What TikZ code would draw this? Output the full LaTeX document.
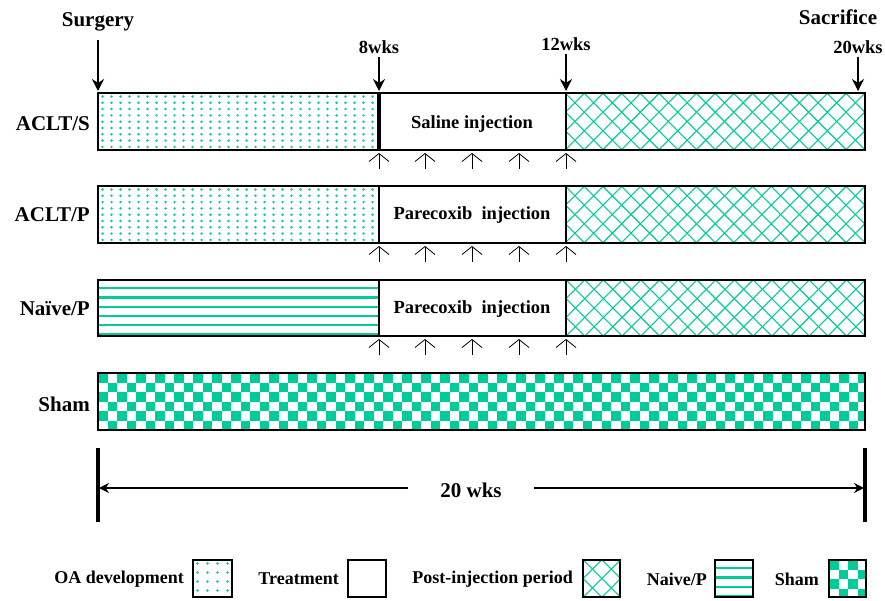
\documentclass[tikz,border=0pt]{standalone}
\usepackage{fontspec}
\setmainfont{Liberation Serif}
\usetikzlibrary{arrows.meta,positioning}

\definecolor{oagreen}{RGB}{0,204,153}

% pattern fills, arguments in pixels (y counted downwards)
\newcommand{\fillDots}[6]{%
  \begin{scope}
    \clip (#1,-#2) rectangle (#3,-#4);
    \foreach \i in {0,...,40}
      \foreach \j in {0,...,12}
        \fill[oagreen] ({#1+4.5+\i*#5},{-#2-3.5-\j*#6}) circle (1.35);
  \end{scope}}

\newcommand{\fillHatch}[4]{%
  \begin{scope}
    \clip (#1,-#2) rectangle (#3,-#4);
    \pgfmathsetmacro{\hh}{#4-#2}
    \foreach \i in {0,...,22}{
      \draw[oagreen,line width=1.1pt] ({#1-\hh+\i*18.7},-#2) -- ++(\hh,-\hh);
      \draw[oagreen,line width=1.1pt] ({#1+\i*18.7},-#2) -- ++(-\hh,-\hh);
    }
  \end{scope}}

\newcommand{\fillStripes}[4]{%
  \begin{scope}
    \clip (#1,-#2) rectangle (#3,-#4);
    \foreach \j in {0,...,7}
      \draw[oagreen,line width=2.2pt] (#1,{-#2-8.3-\j*9.2}) -- (#3,{-#2-8.3-\j*9.2});
  \end{scope}}

\newcommand{\fillChecks}[4]{%
  \begin{scope}
    \clip (#1,-#2) rectangle (#3,-#4);
    \foreach \j in {0,...,6}
      \foreach \i in {0,2,...,84}
        \fill[oagreen] ({#1+(\i+mod(\j,2))*9.5},{-#2-\j*9.5}) rectangle ++(9.5,-9.5);
  \end{scope}}

\begin{document}
\begin{tikzpicture}[x=1pt,y=1pt,>={Stealth[length=12pt,width=12pt]}]
\tikzstyle{grp}=[anchor=east,inner sep=1pt,font=\fontsize{21}{24}\selectfont\bfseries]
\tikzstyle{top}=[inner sep=1pt,font=\fontsize{21}{24}\selectfont\bfseries]
\tikzstyle{wk}=[inner sep=1pt,font=\fontsize{18.5}{20}\selectfont\bfseries]
\tikzstyle{inj}=[inner sep=1pt,font=\fontsize{18.5}{20}\selectfont\bfseries]
\tikzstyle{leg}=[anchor=east,inner sep=1pt,font=\fontsize{18}{20}\selectfont\bfseries]
\tikzstyle{bar}=[draw,line width=2pt]
\tikzstyle{shot}=[-{Straight Barb[length=8pt,width=20pt]},line width=0.8pt,shorten >=3pt]

\useasboundingbox (0,0) rectangle (885,-601);

% bars
\fillDots{98}{93}{379}{150}{9}{6.3}
\fillHatch{566}{93}{865}{150}
\draw[bar] (98,-93) rectangle (865,-150);
\draw[line width=3.5pt] (379,-93) -- (379,-150);
\draw[bar] (566,-93) -- (566,-150);

\fillDots{98}{186}{379}{243}{9}{6.3}
\fillHatch{566}{186}{865}{243}
\draw[bar] (98,-186) rectangle (865,-243);
\draw[bar] (379,-186) -- (379,-243);
\draw[bar] (566,-186) -- (566,-243);

\fillStripes{98}{280}{379}{336}
\fillHatch{566}{280}{865}{336}
\draw[bar] (98,-280) rectangle (865,-336);
\draw[bar] (379,-280) -- (379,-336);
\draw[bar] (566,-280) -- (566,-336);

\fillChecks{98}{373}{865}{430}
\draw[bar] (98,-373) rectangle (865,-430);

% group names
\node[grp] (aclts) at (91,-124) {ACLT/S};
\node[grp] (acltp) at (91,-215) {ACLT/P};
\node[grp] (naive) at (91,-309) {Naïve/P};
\node[grp] (sham) at (91,-404) {Sham};

\node[inj] (sal) at (472,-124) {Saline injection};
\node[inj] (par1) at (472,-215) {Parecoxib\ \ injection};
\node[inj] (par2) at (472,-309) {Parecoxib\ \ injection};

% time points
\node[top] (surg) at (98,-22) {Surgery};
\node[top] (sacr) at (838,-17) {Sacrifice};
\node[wk] (w8) at (379,-47) {8wks};
\node[wk] (w12) at (566,-44) {12wks};
\node[wk] (w20) at (858,-47) {20wks};

\coordinate (t0) at (98,-91);
\coordinate (t8) at (379,-91);
\coordinate (t12) at (566,-91);
\coordinate (t20) at (858,-91);

\draw[->,line width=1.3pt,shorten <=8pt] (surg) -- (t0);
\draw[->,line width=1.3pt,shorten <=2pt] (w8) -- (t8);
\draw[->,line width=1.3pt,shorten <=2pt] (w12) -- (t12);
\draw[->,line width=1.3pt,shorten <=2pt] (w20) -- (t20);

% injections
\foreach \r/\yy in {1/150,2/243,3/336}
  \foreach \xx [count=\k] in {379,425,472,519,566} {
    \coordinate (b\r\k) at (\xx,-\yy);
    \coordinate (f\r\k) at (\xx,-\yy-19);
    \draw[shot] (f\r\k) -- (b\r\k);
  }

% 20 weeks span
\draw[line width=4pt] (98,-448) -- (98,-522);
\draw[line width=4pt] (865,-448) -- (865,-522);
\coordinate (dl) at (99,-488);
\coordinate (dr) at (864,-488);
\node[top,inner xsep=32pt] (dim) at (471,-490) {20 wks};
\draw[-{Stealth[length=10pt,width=10pt]},line width=1.8pt] (dim.west |- dl) -- (dl);
\draw[-{Stealth[length=10pt,width=10pt]},line width=1.8pt] (dim.east |- dr) -- (dr);

% legend
\node[leg] (loa) at (185,-579) {OA development};
\fillDots{193}{560}{232}{597}{10}{9}
\draw[line width=1.6pt] (193,-560) rectangle (232,-597);

\node[leg] (ltr) at (340,-579) {Treatment};
\draw[line width=1.6pt] (348,-560) rectangle (386,-597);

\node[leg] (lpo) at (574,-579) {Post-injection period};
\fillHatch{583}{560}{620}{597}
\draw[line width=1.6pt] (583,-560) rectangle (620,-597);

\node[leg] (lna) at (708,-579) {Naive/P};
\fillStripes{715}{560}{753}{597}
\draw[line width=1.6pt] (715,-560) rectangle (753,-597);

\node[leg] (lsh) at (820,-579) {Sham};
\fillChecks{829}{560}{866}{597}
\draw[line width=1.6pt] (829,-560) rectangle (866,-597);

\end{tikzpicture}
\end{document}
